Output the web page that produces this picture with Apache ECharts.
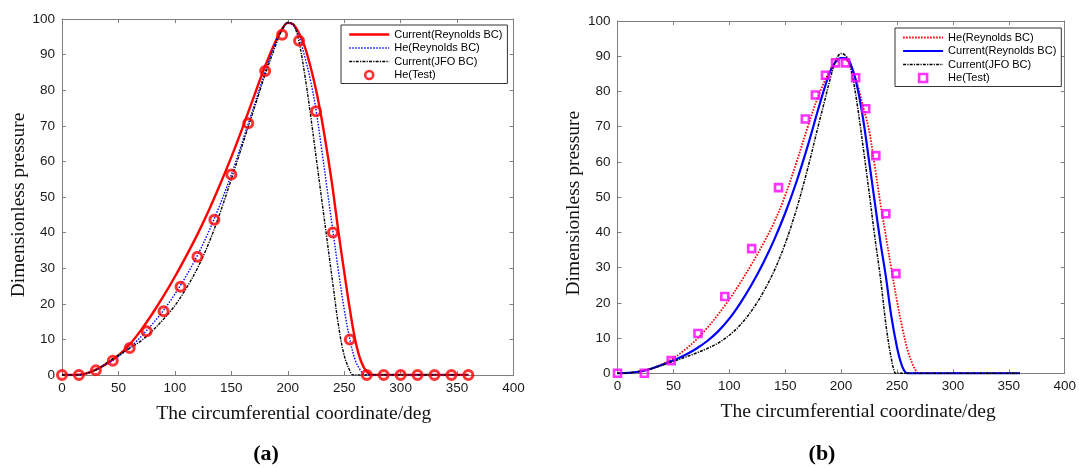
<!DOCTYPE html>
<html><head><meta charset="utf-8">
<script src="https://cdn.jsdelivr.net/npm/echarts@6/dist/echarts.min.js"></script>
<style>html,body{margin:0;padding:0;background:#fff}#c{width:1079px;height:468px}</style>
</head><body><div id="c"></div>
<script>
// ---------- Panel (a) ----------
const aCurRe_x = [0,10,20,30,40,50,60,70,80,90,100,110,120,130,140,150,160,170,180,190,195,200,205,210,215,220,225,230,235,240,245,250,255,260,265,270,275,360];
const aCurRe_y = [0,0,0.3,1.5,3.2,5.5,8.6,12.6,17.2,22.2,27.6,33.4,39.5,46.2,53.5,61.2,69.5,78.2,86.8,94.3,97.2,98.9,98.4,96,92.3,86.8,80.2,72,62.5,52,40,29,18.5,9.5,3.8,0.9,0,0];
const aHeRe_x = [0,15,20,30,45,60,75,90,105,120,135,150,165,180,190,195,200,205,210,215,220,225,230,235,240,245,250,255,260,265,268,360];
const aHeRe_y = [0,0,0.3,1.4,4.1,7.7,12.5,18.2,25.2,33.6,44,56.3,70.6,85.2,94,97,98.9,98.2,95,89.5,83,74.5,63.5,52,40.5,29,18.5,10,4,1,0,0];
const aJfo_x = [0,15,20,30,40,50,60,70,80,90,100,110,120,130,140,150,160,170,180,190,195,200,205,210,215,220,225,230,235,240,245,250,255,258,360];
const aJfo_y = [0,0,0.3,1.4,3.5,5.6,7.5,9.6,12.4,15.7,19.5,24.3,30,37,45.5,55,64.8,74.6,84.4,93.2,97,99,98.5,93.5,84.5,73.5,61.5,49.5,37.5,25.5,13.8,5.5,1.2,0,0];
const aTest_x = [0,15,30,45,60,75,90,105,120,135,150,165,180,195,210,225,240,255,270,285,300,315,330,345,360];
const aTest_y = [0,0,1.3,4,7.6,12.3,17.9,24.8,33.2,43.6,56.3,70.7,85.4,95.6,93.9,74.1,40,10,0,0,0,0,0,0,0];

// ---------- Panel (b) ----------
const bHeRe_x = [0,10,20,30,40,50,60,70,80,90,100,110,120,130,140,150,160,170,180,190,195,200,205,210,215,220,225,230,235,240,245,250,255,260,265,268,270,360];
const bHeRe_y = [0,0.1,0.5,1.3,2.6,4.3,6.6,9.4,12.8,16.7,21,25.8,31,36.6,42.8,50.5,59.8,69.8,79,86,88.2,89.3,88.8,86.3,81.5,75.3,69,59,48.5,39,29.5,20.5,12.5,6,1.8,0.3,0,0];
const bCurRe_x = [0,10,20,30,40,50,60,70,80,90,100,110,120,130,140,150,160,170,180,185,190,195,200,205,210,215,220,225,230,235,240,245,250,253,256,259,360];
const bCurRe_y = [0,0.1,0.5,1.3,2.4,3.7,5.1,6.9,9.1,11.9,15.5,20,25.2,31.1,37.8,45.5,54.3,64.4,75.5,80.8,85.5,88.4,89.5,89.4,86.5,80.5,71.5,60.3,48.8,37.5,27.5,16,7.3,3.5,1,0,0];
const bJfo_x = [0,10,20,30,40,50,60,70,80,90,100,110,120,130,140,150,160,170,180,185,190,195,200,205,210,215,220,225,230,235,240,243,245,247,249,360];
const bJfo_y = [0,0.1,0.6,1.3,2.3,3.4,4.5,5.7,7,8.6,10.8,13.8,17.8,22.8,29,36.8,46.5,58,70.8,77,83.3,88.5,90.8,89.8,84.5,75,63.5,51.5,39,27.5,14,7.5,4,1.2,0,0];
const bTest_x = [0,24,48,72,96,120,144,168,177,186,195,204,213,222,231,240,249];
const bTest_y = [0,0,3.6,11.3,21.8,35.4,52.7,72.2,79,84.6,88.1,88.1,83.9,75.1,61.8,45.3,28.3];

const xTitle = 'The circumferential coordinate/deg';
const yTitle = 'Dimensionless pressure';
const panelLabels = ['(a)', '(b)'];

const zip = (xs, ys) => xs.map((x, i) => [x, ys[i]]);
const AX = '#7f7f7f';
const TICKFONT = {color:'#1a1a1a', fontSize:13.5, fontFamily:'"Liberation Sans", Arial, sans-serif'};
const TITLEFONT = {color:'#111', fontSize:19.5, fontFamily:'"Liberation Serif", "Times New Roman", serif'};

function xAxes(g, shift){
  const base = {type:'value', gridIndex:g, min:0, max:400, interval:50, splitLine:{show:false},
    axisLine:{onZero:false, lineStyle:{color:AX, width:1}},
    axisTick:{inside:true, length:4, lineStyle:{color:AX}}};
  return [
    Object.assign({}, base, {position:'bottom', axisLabel:Object.assign({margin:6}, TICKFONT),
      name:xTitle, nameLocation:'middle', nameGap:29,
      nameTextStyle:Object.assign({padding:[0,0,0,shift]}, TITLEFONT)}),
    Object.assign({}, base, {position:'top', axisLabel:{show:false}})
  ];
}
function yAxes(g, gap, shift){
  const base = {type:'value', gridIndex:g, min:0, max:100, interval:10, splitLine:{show:false},
    axisLine:{onZero:false, lineStyle:{color:AX, width:1}},
    axisTick:{inside:true, length:4, lineStyle:{color:AX}}};
  return [
    Object.assign({}, base, {position:'left', axisLabel:Object.assign({margin:7}, TICKFONT),
      name:yTitle, nameLocation:'middle', nameGap:gap,
      nameTextStyle:Object.assign({padding:[0,shift,0,0]}, TITLEFONT)}),
    Object.assign({}, base, {position:'right', axisLabel:{show:false}})
  ];
}
function line(name, xs, ys, xi, color, width, type, z){
  return {type:'line', name, xAxisIndex:xi, yAxisIndex:xi, data:zip(xs, ys), symbol:'none', showSymbol:false,
    smooth:0.35, lineStyle:{color, width, type}, itemStyle:{color}, z, animation:false};
}
function marks(name, xs, ys, xi, color, symbol, size, bw){
  return {type:'scatter', name, xAxisIndex:xi, yAxisIndex:xi, data:zip(xs, ys), symbol, symbolSize:size,
    itemStyle:{color:'rgba(255,255,255,0)', borderColor:color, borderWidth:bw}, z:10, animation:false};
}
// legend entries: line samples hide the centre symbol; markers keep a thick outline
const lineItem = (name, w) => ({name, itemStyle:{opacity:0}, lineStyle:{width:w}});
const markItem = (name, icon) => ({name, icon, itemStyle:{borderWidth:2.6}});
const legendCommon = {orient:'vertical', itemWidth:40, itemHeight:8, itemGap:2.5, selectedMode:false,
  backgroundColor:'#fff', borderColor:'#333', borderWidth:1, borderRadius:0, padding:[4,5,3,7],
  textStyle:{fontSize:11, color:'#000', fontFamily:'"Liberation Sans", Arial, sans-serif'},
  formatter: n => n.replace(/^b:/, '')};

const option = {
  backgroundColor:'#fff',
  animation:false,
  grid:[
    {left:62, top:19, width:451.5, height:356},
    {left:617.5, top:21, width:448, height:352.3}
  ],
  xAxis:[...xAxes(0, 12), ...xAxes(1, 34)],
  yAxis:[...yAxes(0, 31, 16), ...yAxes(1, 28, 12)],
  legend:[
    Object.assign({left:341, top:25, data:[
      lineItem('Current(Reynolds BC)', 2.4), lineItem('He(Reynolds BC)', 1.4),
      lineItem('Current(JFO BC)', 1.4), markItem('He(Test)', 'circle')]}, legendCommon),
    Object.assign({left:895, top:28, data:[
      lineItem('b:He(Reynolds BC)', 1.8), lineItem('b:Current(Reynolds BC)', 2.2),
      lineItem('b:Current(JFO BC)', 1.5), markItem('b:He(Test)', 'path://M0,0L10,0L10,10L0,10Z')]}, legendCommon)
  ],
  series:[
    line('Current(Reynolds BC)', aCurRe_x, aCurRe_y, 0, '#ff0000', 2.4, 'solid', 2),
    line('He(Reynolds BC)', aHeRe_x, aHeRe_y, 0, '#0000ff', 1.4, [1.5,1.5], 3),
    line('Current(JFO BC)', aJfo_x, aJfo_y, 0, '#000000', 1.4, [3,1.2,1.2,1.2], 4),
    marks('He(Test)', aTest_x, aTest_y, 0, '#ff0000', 'circle', 9, 3),
    line('b:He(Reynolds BC)', bHeRe_x, bHeRe_y, 2, '#ff0000', 1.8, [1.6,1.4], 2),
    line('b:Current(Reynolds BC)', bCurRe_x, bCurRe_y, 2, '#0000ff', 2.2, 'solid', 3),
    line('b:Current(JFO BC)', bJfo_x, bJfo_y, 2, '#000000', 1.5, [3,1.2,1.2,1.2], 4),
    marks('b:He(Test)', bTest_x, bTest_y, 2, '#ff00ff', 'rect', 7, 2.6)
  ],
  graphic:[
    {type:'text', x:266, y:454, style:{text:panelLabels[0], fontSize:22, fontWeight:'bold', fontFamily:'"Liberation Serif", serif', fill:'#000', align:'center', verticalAlign:'middle'}},
    {type:'text', x:822, y:454, style:{text:panelLabels[1], fontSize:22, fontWeight:'bold', fontFamily:'"Liberation Serif", serif', fill:'#000', align:'center', verticalAlign:'middle'}}
  ]
};
const chart = echarts.init(document.getElementById('c'), null, {renderer:'canvas'});
chart.setOption(option);
</script></body></html>
